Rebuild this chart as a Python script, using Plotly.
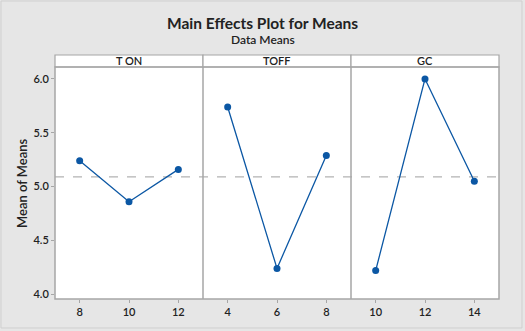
import plotly.graph_objects as go
from plotly.subplots import make_subplots

# facteurs et niveaux
factors = ['T ON', 'TOFF', 'GC']
ton_levels = [8, 10, 12]
ton_means = [5.24, 4.86, 5.16]
toff_levels = [4, 6, 8]
toff_means = [5.74, 4.24, 5.29]
gc_levels = [10, 12, 14]
gc_means = [4.22, 6.00, 5.05]
grand_mean = 5.09
y_ticks = [4.0, 4.5, 5.0, 5.5, 6.0]

BG = '#e6e6e6'
GRID = '#a6a6a6'
BLUE = '#0b57a4'
TXT = '#222222'
FONT = 'Lato'

W, H = 525, 331
ML, MR, MT, MB = 55, 26, 67, 32
pw = W - ML - MR
ph = H - MT - MB

fig = make_subplots(rows=1, cols=3, shared_yaxes=True, horizontal_spacing=0)

series = [(ton_levels, ton_means), (toff_levels, toff_means), (gc_levels, gc_means)]
for i, (lv, mv) in enumerate(series):
    fig.add_trace(go.Scatter(
        x=lv, y=mv, mode='lines+markers',
        line=dict(color=BLUE, width=1.3),
        marker=dict(color=BLUE, size=7),
        showlegend=False, hoverinfo='skip'
    ), row=1, col=i + 1)
    fig.update_xaxes(
        range=[lv[0] - 1, lv[-1] + 1], tickvals=lv,
        showline=False, ticks='outside', ticklen=3, tickcolor=GRID,
        showgrid=False, zeroline=False,
        tickfont=dict(family=FONT, size=11, color=TXT, weight=600),
        row=1, col=i + 1
    )
    # bandeau du facteur
    d0 = i / 3
    d1 = (i + 1) / 3
    fig.add_shape(type='rect', xref='paper', yref='paper',
                  x0=d0, x1=d1, y0=1, y1=1 + 12 / ph,
                  fillcolor='white', line=dict(color=GRID, width=1.2))
    fig.add_annotation(x=(d0 + d1) / 2, y=1 + 6 / ph, xref='paper', yref='paper',
                       text=factors[i], showarrow=False,
                       font=dict(family=FONT, size=11, color=TXT, weight=600),
                       xanchor='center', yanchor='middle')
    if i > 0:
        fig.add_shape(type='line', xref='paper', yref='paper',
                      x0=d0, x1=d0, y0=0, y1=1,
                      line=dict(color=GRID, width=1.5))

fig.update_yaxes(
    range=[3.956, 6.111], tickvals=y_ticks, tickformat='.1f',
    showline=False, ticks='outside', ticklen=3, tickcolor=GRID,
    showgrid=False, zeroline=False,
    tickfont=dict(family=FONT, size=11, color=TXT, weight=600)
)
fig.update_yaxes(ticks='', row=1, col=2)
fig.update_yaxes(ticks='', row=1, col=3)

# cadre de la zone de tracé
fig.add_shape(type='rect', xref='paper', yref='paper', x0=0, x1=1, y0=0, y1=1,
              line=dict(color=GRID, width=1.5), fillcolor='rgba(0,0,0,0)')

# moyenne générale
fig.add_shape(type='line', xref='paper', yref='y', x0=0, x1=1,
              y0=grand_mean, y1=grand_mean,
              line=dict(color='#b3b3b3', width=1.2, dash='dash'), layer='below')

fig.add_annotation(x=-(ML - 22) / pw, y=0.5, xref='paper', yref='paper',
                   text='Mean of Means', textangle=-90, showarrow=False,
                   xanchor='center', yanchor='middle',
                   font=dict(family=FONT, size=13, color=TXT, weight=600))
fig.add_annotation(x=(W / 2 - ML) / pw, y=1 + (MT - 23) / ph, xref='paper', yref='paper',
                   text='<b>Main Effects Plot for Means</b>', showarrow=False,
                   xanchor='center', yanchor='middle',
                   font=dict(family=FONT, size=15.5, color=TXT))
fig.add_annotation(x=(W / 2 - ML) / pw, y=1 + (MT - 40) / ph, xref='paper', yref='paper',
                   text='Data Means', showarrow=False,
                   xanchor='center', yanchor='middle',
                   font=dict(family=FONT, size=12, color=TXT, weight=600))

# cadre extérieur
fig.add_shape(type='rect', xref='paper', yref='paper',
              x0=-(ML - 1) / pw, x1=1 + (MR - 3) / pw,
              y0=-(MB - 3) / ph, y1=1 + (MT - 1) / ph,
              line=dict(color='#cfcfcf', width=1), fillcolor='rgba(0,0,0,0)')

fig.update_layout(
    width=W, height=H,
    margin=dict(l=ML, r=MR, t=MT, b=MB),
    paper_bgcolor=BG, plot_bgcolor='white',
    font=dict(family=FONT),
    hovermode=False
)

fig.write_html('out.html', config={'displayModeBar': False},
               post_script="document.body.style.margin='0';")
